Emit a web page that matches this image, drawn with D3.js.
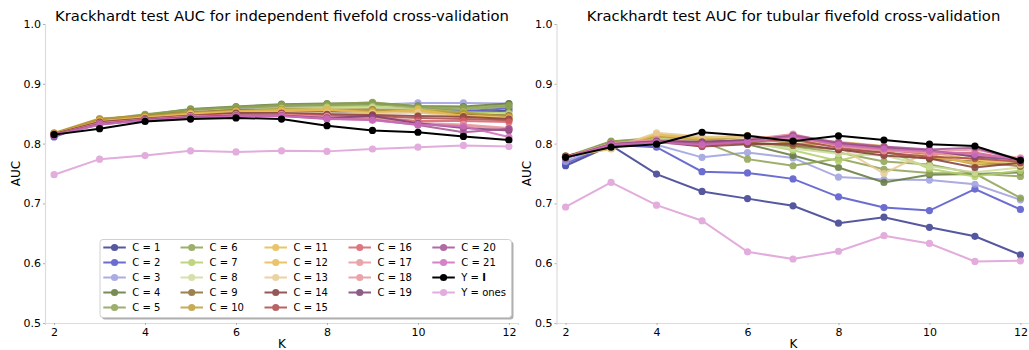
<!DOCTYPE html>
<html>
<head>
<meta charset="utf-8">
<script src="https://cdn.jsdelivr.net/npm/d3@7"></script>
<style>
  body { margin: 0; background: #fff; }
  svg { font-family: "DejaVu Sans", sans-serif; }
</style>
</head>
<body>
<div id="chart"></div>
<script>
// K values on the x axis
let kValues = [2, 3, 4, 5, 6, 7, 8, 9, 10, 11, 12];
let xTicks = [2, 4, 6, 8, 10, 12];
let yTicks = [0.5, 0.6, 0.7, 0.8, 0.9, 1.0];

let seriesNames = ["C = 1", "C = 2", "C = 3", "C = 4", "C = 5", "C = 6", "C = 7",
  "C = 8", "C = 9", "C = 10", "C = 11", "C = 12", "C = 13", "C = 14", "C = 15",
  "C = 16", "C = 17", "C = 18", "C = 19", "C = 20", "C = 21", "Y = I", "Y = ones"];

let seriesColors = ["#393b8f", "#5254c9", "#9c9ede", "#637939", "#8ca252", "#8ca252",
  "#b5cf6b", "#cedb9c", "#8c6d31", "#bd9e39", "#e7ba52", "#e7ba52", "#e7cb94",
  "#843c39", "#ad494a", "#d6616b", "#e7969c", "#e7969c", "#7b4173", "#a55194",
  "#ce6dbd", "#000000", "#de9ed6"];

// independent fivefold cross-validation
let independentAUC = [
  [0.813, 0.836, 0.843, 0.848, 0.852, 0.853, 0.852, 0.855, 0.856, 0.853, 0.855],
  [0.811, 0.838, 0.844, 0.848, 0.853, 0.855, 0.853, 0.857, 0.859, 0.854, 0.859],
  [0.815, 0.837, 0.845, 0.850, 0.858, 0.861, 0.863, 0.865, 0.868, 0.868, 0.867],
  [0.817, 0.840, 0.848, 0.858, 0.862, 0.866, 0.867, 0.868, 0.863, 0.862, 0.867],
  [0.816, 0.840, 0.849, 0.857, 0.861, 0.865, 0.866, 0.869, 0.862, 0.860, 0.864],
  [0.816, 0.839, 0.847, 0.856, 0.860, 0.863, 0.864, 0.866, 0.860, 0.857, 0.862],
  [0.815, 0.832, 0.842, 0.851, 0.856, 0.859, 0.861, 0.862, 0.858, 0.853, 0.851],
  [0.815, 0.831, 0.841, 0.848, 0.853, 0.856, 0.858, 0.860, 0.856, 0.848, 0.848],
  [0.817, 0.841, 0.846, 0.853, 0.856, 0.857, 0.856, 0.857, 0.852, 0.850, 0.847],
  [0.818, 0.842, 0.846, 0.852, 0.855, 0.857, 0.857, 0.856, 0.856, 0.852, 0.845],
  [0.816, 0.838, 0.844, 0.850, 0.854, 0.856, 0.857, 0.853, 0.854, 0.847, 0.843],
  [0.816, 0.837, 0.843, 0.849, 0.852, 0.854, 0.856, 0.851, 0.857, 0.846, 0.841],
  [0.815, 0.835, 0.842, 0.848, 0.851, 0.852, 0.851, 0.850, 0.852, 0.844, 0.840],
  [0.816, 0.836, 0.842, 0.847, 0.851, 0.851, 0.849, 0.848, 0.846, 0.845, 0.841],
  [0.815, 0.835, 0.841, 0.846, 0.849, 0.850, 0.847, 0.846, 0.843, 0.841, 0.839],
  [0.815, 0.834, 0.841, 0.846, 0.848, 0.849, 0.846, 0.844, 0.838, 0.838, 0.836],
  [0.815, 0.834, 0.840, 0.845, 0.848, 0.848, 0.844, 0.843, 0.835, 0.832, 0.826],
  [0.814, 0.833, 0.840, 0.845, 0.847, 0.848, 0.845, 0.842, 0.833, 0.830, 0.824],
  [0.815, 0.833, 0.840, 0.844, 0.847, 0.847, 0.843, 0.846, 0.834, 0.826, 0.822],
  [0.814, 0.832, 0.839, 0.844, 0.846, 0.846, 0.841, 0.840, 0.831, 0.819, 0.825],
  [0.814, 0.832, 0.839, 0.843, 0.846, 0.846, 0.842, 0.839, 0.832, 0.829, 0.811],
  [0.815, 0.825, 0.837, 0.841, 0.843, 0.841, 0.830, 0.822, 0.819, 0.812, 0.806],
  [0.748, 0.774, 0.780, 0.788, 0.786, 0.788, 0.787, 0.791, 0.794, 0.797, 0.795]
];

// tubular fivefold cross-validation
let tubularAUC = [
  [0.763, 0.797, 0.749, 0.720, 0.708, 0.696, 0.667, 0.677, 0.660, 0.645, 0.614],
  [0.767, 0.798, 0.794, 0.753, 0.751, 0.741, 0.711, 0.693, 0.688, 0.724, 0.690],
  [0.770, 0.800, 0.798, 0.777, 0.785, 0.776, 0.744, 0.740, 0.739, 0.732, 0.706],
  [0.776, 0.803, 0.806, 0.808, 0.799, 0.780, 0.760, 0.735, 0.748, 0.749, 0.752],
  [0.778, 0.804, 0.808, 0.804, 0.774, 0.763, 0.775, 0.757, 0.751, 0.750, 0.709],
  [0.777, 0.803, 0.810, 0.810, 0.800, 0.795, 0.785, 0.770, 0.765, 0.750, 0.745],
  [0.778, 0.800, 0.808, 0.806, 0.803, 0.789, 0.771, 0.791, 0.758, 0.745, 0.755],
  [0.779, 0.795, 0.810, 0.805, 0.800, 0.792, 0.783, 0.780, 0.762, 0.752, 0.760],
  [0.779, 0.796, 0.805, 0.800, 0.802, 0.797, 0.790, 0.785, 0.775, 0.770, 0.762],
  [0.778, 0.793, 0.812, 0.806, 0.811, 0.800, 0.798, 0.792, 0.782, 0.765, 0.765],
  [0.778, 0.792, 0.815, 0.808, 0.814, 0.804, 0.803, 0.796, 0.778, 0.768, 0.770],
  [0.778, 0.791, 0.816, 0.810, 0.813, 0.806, 0.800, 0.794, 0.785, 0.773, 0.768],
  [0.778, 0.792, 0.818, 0.812, 0.810, 0.812, 0.795, 0.750, 0.788, 0.778, 0.765],
  [0.779, 0.797, 0.803, 0.795, 0.799, 0.800, 0.790, 0.780, 0.775, 0.760, 0.768],
  [0.778, 0.798, 0.805, 0.796, 0.803, 0.807, 0.793, 0.785, 0.778, 0.775, 0.770],
  [0.777, 0.799, 0.806, 0.800, 0.805, 0.813, 0.797, 0.789, 0.783, 0.785, 0.772],
  [0.777, 0.800, 0.807, 0.801, 0.806, 0.815, 0.796, 0.788, 0.786, 0.790, 0.775],
  [0.777, 0.800, 0.806, 0.802, 0.807, 0.816, 0.799, 0.790, 0.784, 0.780, 0.776],
  [0.776, 0.799, 0.804, 0.803, 0.806, 0.812, 0.800, 0.793, 0.789, 0.778, 0.773],
  [0.776, 0.799, 0.803, 0.800, 0.804, 0.814, 0.802, 0.795, 0.790, 0.793, 0.771],
  [0.776, 0.798, 0.802, 0.798, 0.803, 0.811, 0.798, 0.791, 0.787, 0.782, 0.774],
  [0.777, 0.794, 0.799, 0.819, 0.813, 0.804, 0.813, 0.806, 0.799, 0.796, 0.772],
  [0.694, 0.735, 0.697, 0.671, 0.619, 0.607, 0.620, 0.646, 0.633, 0.603, 0.604]
];

let width = 1029, height = 350;
let svg = d3.select("#chart").append("svg")
    .attr("width", width)
    .attr("height", height);

function drawPanel(left, title, values, withLegend)
{
    let x = d3.scaleLinear().domain([1.8, 12.2]).range([left, left + 473]);
    let y = d3.scaleLinear().domain([0.5, 1.0]).range([323, 24]);
    let g = svg.append("g");

    // spines + ticks
    let xAxis = g.append("g")
        .attr("transform", `translate(0, ${y(0.5)})`)
        .call(d3.axisBottom(x).tickValues(xTicks).tickSize(2).tickPadding(3).tickFormat(d3.format("d")));
    let yAxis = g.append("g")
        .attr("transform", `translate(${left}, 0)`)
        .call(d3.axisLeft(y).tickValues(yTicks).tickSize(2).tickPadding(2).tickFormat(d3.format(".1f")));
    [xAxis, yAxis].forEach(a => {
        a.select(".domain").attr("stroke", "#dcdcdc").attr("stroke-width", 1.2);
        a.selectAll(".tick line").attr("stroke", "#b0b0b0");
        a.selectAll(".tick text")
            .attr("fill", "#000")
            .style("font-size", "11px")
            .style("font-family", "DejaVu Sans");
    });

    g.append("text")
        .attr("x", left + 237)
        .attr("y", 21)
        .attr("text-anchor", "middle")
        .style("font-size", "14.8px")
        .text(title);
    g.append("text")
        .attr("x", left + 237)
        .attr("y", 348)
        .attr("text-anchor", "middle")
        .style("font-size", "12px")
        .text("K");
    g.append("text")
        .attr("transform", `translate(${left - 25.5}, ${y(0.75)}) rotate(-90)`)
        .attr("text-anchor", "middle")
        .style("font-size", "12px")
        .text("AUC");

    let line = d3.line().x((d, i) => x(kValues[i])).y(d => y(d));

    values.forEach((vals, s) => {
        let sg = g.append("g").attr("opacity", s == 21 ? 1 : 0.85);
        sg.append("path")
            .attr("d", line(vals))
            .attr("fill", "none")
            .attr("stroke", seriesColors[s])
            .attr("stroke-width", 2);
        sg.selectAll("circle")
            .data(vals)
            .enter()
            .append("circle")
            .attr("cx", (d, i) => x(kValues[i]))
            .attr("cy", d => y(d))
            .attr("r", 3.6)
            .attr("fill", seriesColors[s]);
    });

    if (withLegend) {
        let lx = 100, ly = 239.5, lw = 411.5, lh = 78;
        g.append("rect")
            .attr("x", lx + 2).attr("y", ly + 2)
            .attr("width", lw).attr("height", lh)
            .attr("rx", 3)
            .attr("fill", "#b0b0b0");
        g.append("rect")
            .attr("x", lx).attr("y", ly)
            .attr("width", lw).attr("height", lh)
            .attr("rx", 3)
            .attr("fill", "#fff")
            .attr("stroke", "#d0d0d0");
        // matplotlib fills columns: 5,5,5,4,4
        let colStart = [0, 5, 10, 15, 19];
        let colX = [103.3, 180.5, 264.5, 348.5, 432.3];
        seriesNames.forEach((name, s) => {
            let col = colStart.filter(c => c <= s).length - 1;
            let row = s - colStart[col];
            let ex = colX[col], ey = 247.5 + row * 15;
            let eg = g.append("g").attr("opacity", s == 21 ? 1 : 0.85);
            eg.append("line")
                .attr("x1", ex).attr("x2", ex + 22.5)
                .attr("y1", ey).attr("y2", ey)
                .attr("stroke", seriesColors[s])
                .attr("stroke-width", 2);
            eg.append("circle")
                .attr("cx", ex + 11.25).attr("cy", ey)
                .attr("r", 3.6)
                .attr("fill", seriesColors[s]);
            let t = g.append("text")
                .attr("x", ex + 29)
                .attr("y", ey + 3.6)
                .style("font-size", "10px");
            if (name == "Y = I") {
                t.append("tspan").text("Y = ");
                t.append("tspan").attr("font-weight", "bold").text("I");
            } else {
                t.text(name);
            }
        });
    }
}

drawPanel(45, "Krackhardt test AUC for independent fivefold cross-validation", independentAUC, true);
drawPanel(556.5, "Krackhardt test AUC for tubular fivefold cross-validation", tubularAUC, false);
</script>
</body>
</html>
